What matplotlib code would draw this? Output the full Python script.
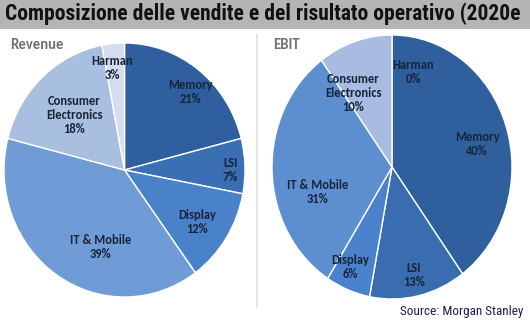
import numpy as np
import matplotlib
matplotlib.use("Agg")
import matplotlib.pyplot as plt
from matplotlib.patches import Rectangle

title = "Composizione delle vendite e del risultato operativo (2020e"
source = "Source: Morgan Stanley"

rev_labels = ["Memory", "LSI", "Display", "IT & Mobile", "Consumer\nElectronics", "Harman"]
rev_values = [21, 7, 12, 39, 18, 3]
rev_colors = ["#2f5f9e", "#3a6fb3", "#4a82ca", "#6f9bd6", "#a9bfdf", "#d4ddee"]

ebit_labels = ["Harman", "Memory", "LSI", "Display", "IT & Mobile", "Consumer\nElectronics"]
ebit_values = [0, 40, 13, 6, 31, 10]
ebit_colors = ["#d4ddee", "#2f5f9c", "#3a6db0", "#4a82cc", "#5d8fd0", "#a7bce0"]

W, H = 530, 322
fig = plt.figure(figsize=(W / 100, H / 100), dpi=100)
fig.patch.set_facecolor("white")
COND = ["Roboto Condensed", "Archivo Narrow", "Barlow Condensed", "DejaVu Sans"]
SANS = ["Carlito", "Lato", "DejaVu Sans"]

def px_axes(cx, cy, rx, ry):
    return fig.add_axes([(cx - rx) / W, 1 - (cy + ry) / H, 2 * rx / W, 2 * ry / H])

renderer = fig.canvas.get_renderer()

def fit_text(x, y, s, width_px, size, **kw):
    t = fig.text(x, y, s, fontsize=size, **kw)
    w = t.get_window_extent(renderer).width
    if w > width_px:
        t.set_fontsize(size * width_px / w)
    return t

# title bar
fig.patches.append(Rectangle((0, 1 - 29 / H), 1, 29 / H, transform=fig.transFigure,
                             facecolor="#b4b4b4", edgecolor="none", zorder=0))
fit_text(5 / W, 1 - 14 / H, title, 516, 17, ha="left", va="center",
         family=COND, fontweight="bold", color="#111111")

# separator
fig.add_artist(plt.Line2D([257 / W, 257 / W], [1 - 35 / H, 1 - 307 / H],
                          transform=fig.transFigure, color="#e3e3e3", lw=1.3))

label_font = dict(fontsize=9, fontweight="bold", family=SANS,
                  color="#18243a", ha="center", va="center", linespacing=1.2)

def draw_pie(ax, values, colors, labels, radii, dthetas):
    wedges, _ = ax.pie(values, colors=colors, startangle=90, counterclock=False,
                       wedgeprops=dict(edgecolor="white", linewidth=1.0))
    ax.set_aspect("auto")
    ax.set_xlim(-1, 1)
    ax.set_ylim(-1, 1)
    ax.axis("off")
    for w, lab, v, r, dt in zip(wedges, labels, values, radii, dthetas):
        ang = np.deg2rad((w.theta1 + w.theta2) / 2 + dt)
        ax.text(r * np.cos(ang), r * np.sin(ang), f"{lab}\n{v}%", **label_font)

ax1 = px_axes(124.5, 170, 120.5, 127)
draw_pie(ax1, rev_values, rev_colors, rev_labels,
         [0.82, 0.88, 0.73, 0.64, 0.60, 0.81],
         [-4, -2, -2, 16, 1, 2])

ax2 = px_axes(392, 167, 120, 132)
draw_pie(ax2, ebit_values, ebit_colors, ebit_labels,
         [0.74, 0.73, 0.84, 0.83, 0.65, 0.65],
         [-14, -4, 0, -3, 15, 12])

fig.text(10 / W, 1 - 45 / H, "Revenue", ha="left", va="center", fontsize=10.5,
         family=SANS, fontweight="bold", color="#727272")
fig.text(273 / W, 1 - 45 / H, "EBIT", ha="left", va="center", fontsize=10.5,
         family=SANS, fontweight="bold", color="#727272")

fit_text(523 / W, 1 - 311 / H, source, 128, 9.5, ha="right", va="center",
         family=COND, color="#1b1f5c")

fig.savefig("out.png", dpi=100)
